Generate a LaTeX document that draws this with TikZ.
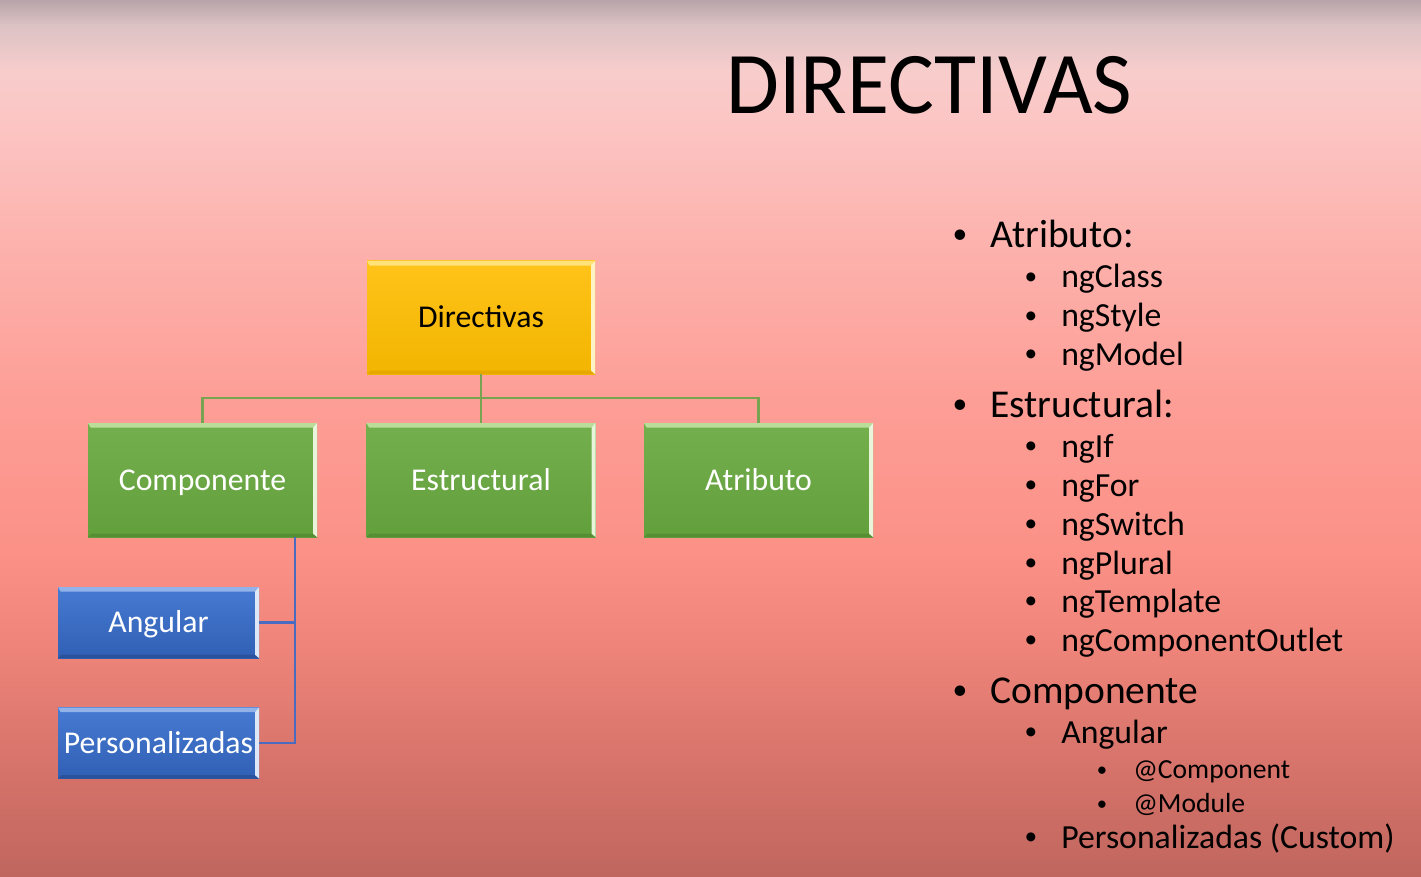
\documentclass[tikz,border=0pt]{standalone}
\usepackage{fontspec}
\setmainfont{Carlito}
\def\pxu{0.75pt}
\definecolor{bgA}{HTML}{B8A5A9}
\definecolor{bgB}{HTML}{DCC2C4}
\definecolor{bgC}{HTML}{F7CDCC}
\definecolor{bgD}{HTML}{FCC4C2}
\definecolor{bgE}{HTML}{FDB1AC}
\definecolor{bgF}{HTML}{FD9E96}
\definecolor{bgG}{HTML}{FB9187}
\definecolor{bgH}{HTML}{EE8479}
\definecolor{bgI}{HTML}{D9756C}
\definecolor{bgJ}{HTML}{C0665E}
\definecolor{yelT}{HTML}{FFC31A}
\definecolor{yelB}{HTML}{F2B500}
\definecolor{yelHi}{HTML}{FFE27A}
\definecolor{yelRt}{HTML}{FFF2C4}
\definecolor{yelLo}{HTML}{E6A800}
\definecolor{grnT}{HTML}{74AF4E}
\definecolor{grnB}{HTML}{62A03C}
\definecolor{grnHi}{HTML}{BADE9A}
\definecolor{grnRt}{HTML}{E8F5DA}
\definecolor{grnLo}{HTML}{568E34}
\definecolor{bluT}{HTML}{477AD2}
\definecolor{bluB}{HTML}{3060B5}
\definecolor{bluHi}{HTML}{92B2EA}
\definecolor{bluRt}{HTML}{DCE7F8}
\definecolor{bluLo}{HTML}{2A529C}
\definecolor{lineG}{HTML}{78A452}
\definecolor{lineB}{HTML}{4A6CC0}
\tikzset{
  bevelbox/.style n args={5}{
    top color=#1, bottom color=#2, draw=none, inner sep=0pt,
    font=\fontsize{23.8}{28}\selectfont, text height=17pt, text depth=2pt,
    path picture={
      \coordinate (pnw) at (path picture bounding box.north west);
      \coordinate (pne) at (path picture bounding box.north east);
      \coordinate (psw) at (path picture bounding box.south west);
      \coordinate (pse) at (path picture bounding box.south east);
      % bottom shading of the bevel
      \fill[#5] (psw) -- (pse) -- ([shift={(-3pt,2.5pt)}]pse) -- ([shift={(2.5pt,2.5pt)}]psw) -- cycle;
      % top highlight band
      \fill[#3] (pnw) -- (pne) -- ([shift={(-3pt,-3.5pt)}]pne) -- ([shift={(2pt,-3.5pt)}]pnw) -- cycle;
      % right highlight band
      \fill[#4] (pne) -- (pse) -- ([shift={(-3pt,2.5pt)}]pse) -- ([shift={(-3pt,-3.5pt)}]pne) -- cycle;
    }
  },
  rootbox/.style={bevelbox={yelT}{yelB}{yelHi}{yelRt}{yelLo}, text=black,
    minimum width=228*\pxu, minimum height=113*\pxu},
  kindbox/.style={bevelbox={grnT}{grnB}{grnHi}{grnRt}{grnLo}, text=white,
    minimum width=229*\pxu, minimum height=114*\pxu},
  subbox/.style={bevelbox={bluT}{bluB}{bluHi}{bluRt}{bluLo}, text=white,
    minimum width=201*\pxu, minimum height=71*\pxu},
  glink/.style={draw=lineG, line width=2.2*\pxu},
  blink/.style={draw=lineB, line width=2.2*\pxu},
  lvlone/.style={anchor=base west, inner sep=0pt, font=\fontsize{29.6}{34}\selectfont},
  lvltwo/.style={anchor=base west, inner sep=0pt, font=\fontsize{25.3}{30}\selectfont},
  lvlthree/.style={anchor=base west, inner sep=0pt, font=\fontsize{20.7}{24}\selectfont},
  bone/.style={anchor=base, inner sep=0pt, font=\fontsize{22.2}{26}\selectfont},
  btwo/.style={anchor=base, inner sep=0pt, font=\fontsize{19}{22}\selectfont},
  bthree/.style={anchor=base, inner sep=0pt, font=\fontsize{15.5}{18}\selectfont},
}
\begin{document}
\begin{tikzpicture}[x=\pxu, y=-\pxu]
\useasboundingbox (0,0) rectangle (1421,877);
% background: stacked vertical gradients
\shade[top color=bgA, bottom color=bgB] (0,0) rectangle (1421,25.5);
\shade[top color=bgB, bottom color=bgC] (0,25) rectangle (1421,70.5);
\shade[top color=bgC, bottom color=bgD] (0,70) rectangle (1421,130.5);
\shade[top color=bgD, bottom color=bgE] (0,130) rectangle (1421,250.5);
\shade[top color=bgE, bottom color=bgF] (0,250) rectangle (1421,400.5);
\shade[top color=bgF, bottom color=bgG] (0,400) rectangle (1421,550.5);
\shade[top color=bgG, bottom color=bgH] (0,550) rectangle (1421,650.5);
\shade[top color=bgH, bottom color=bgI] (0,650) rectangle (1421,750.5);
\shade[top color=bgI, bottom color=bgJ] (0,750) rectangle (1421,877);

% title
\node[anchor=base west, inner sep=0pt, font=\fontsize{66}{70}\selectfont, xscale=0.977, transform shape]
  (title) at (726,114) {DIRECTIVAS};

% hierarchy
\node[rootbox] (dir) at (481,317.5) {Directivas};
\node[kindbox] (comp) at (202.5,480) {Componente};
\node[kindbox] (estr) at (481,480) {Estructural};
\node[kindbox] (atr) at (758.5,480) {Atributo};
\node[subbox] (ang) at (158.5,622.5) {Angular};
\node[subbox] (pers) at (158.5,743) {Personalizadas};

\coordinate (bus) at (481,398);
\draw[glink] (dir.south) -- (estr.north);
\draw[glink] (bus) -| (comp.north);
\draw[glink] (bus) -| (atr.north);

\coordinate (trunk) at (295,537);
\draw[blink] (trunk) |- (ang.east);
\draw[blink] (trunk) |- (pers.east);

% bullet list
\node[bone] (b1) at (960,244) {•};
\node[lvlone] (t1) at (990,248) {Atributo:};
\node[btwo] (b11) at (1031,284.5) {•};
\node[lvltwo] (t11) at (1061,288) {ngClass};
\node[btwo] (b12) at (1031,323.5) {•};
\node[lvltwo] (t12) at (1061,327) {ngStyle};
\node[btwo] (b13) at (1031,361.5) {•};
\node[lvltwo] (t13) at (1061,365) {ngModel};

\node[bone] (b2) at (960,413) {•};
\node[lvlone] (t2) at (990,417) {Estructural:};
\node[btwo] (b21) at (1031,453.5) {•};
\node[lvltwo] (t21) at (1061,457) {ngIf};
\node[btwo] (b22) at (1031,492.5) {•};
\node[lvltwo] (t22) at (1061,496) {ngFor};
\node[btwo] (b23) at (1031,531.5) {•};
\node[lvltwo] (t23) at (1061,535) {ngSwitch};
\node[btwo] (b24) at (1031,570.5) {•};
\node[lvltwo] (t24) at (1061,574) {ngPlural};
\node[btwo] (b25) at (1031,608.5) {•};
\node[lvltwo] (t25) at (1061,612) {ngTemplate};
\node[btwo] (b26) at (1031,647.5) {•};
\node[lvltwo] (t26) at (1061,651) {ngComponentOutlet};

\node[bone] (b3) at (960,699) {•};
\node[lvlone] (t3) at (990,703) {Componente};
\node[btwo] (b31) at (1031,739.5) {•};
\node[lvltwo] (t31) at (1061,743) {Angular};
\node[bthree] (b311) at (1102,776) {•};
\node[lvlthree] (t311) at (1133,778) {@Component};
\node[bthree] (b312) at (1102,810) {•};
\node[lvlthree] (t312) at (1133,812) {@Module};
\node[btwo] (b32) at (1031,844.5) {•};
\node[lvltwo] (t32) at (1061,848) {Personalizadas (Custom)};
\end{tikzpicture}
\end{document}
